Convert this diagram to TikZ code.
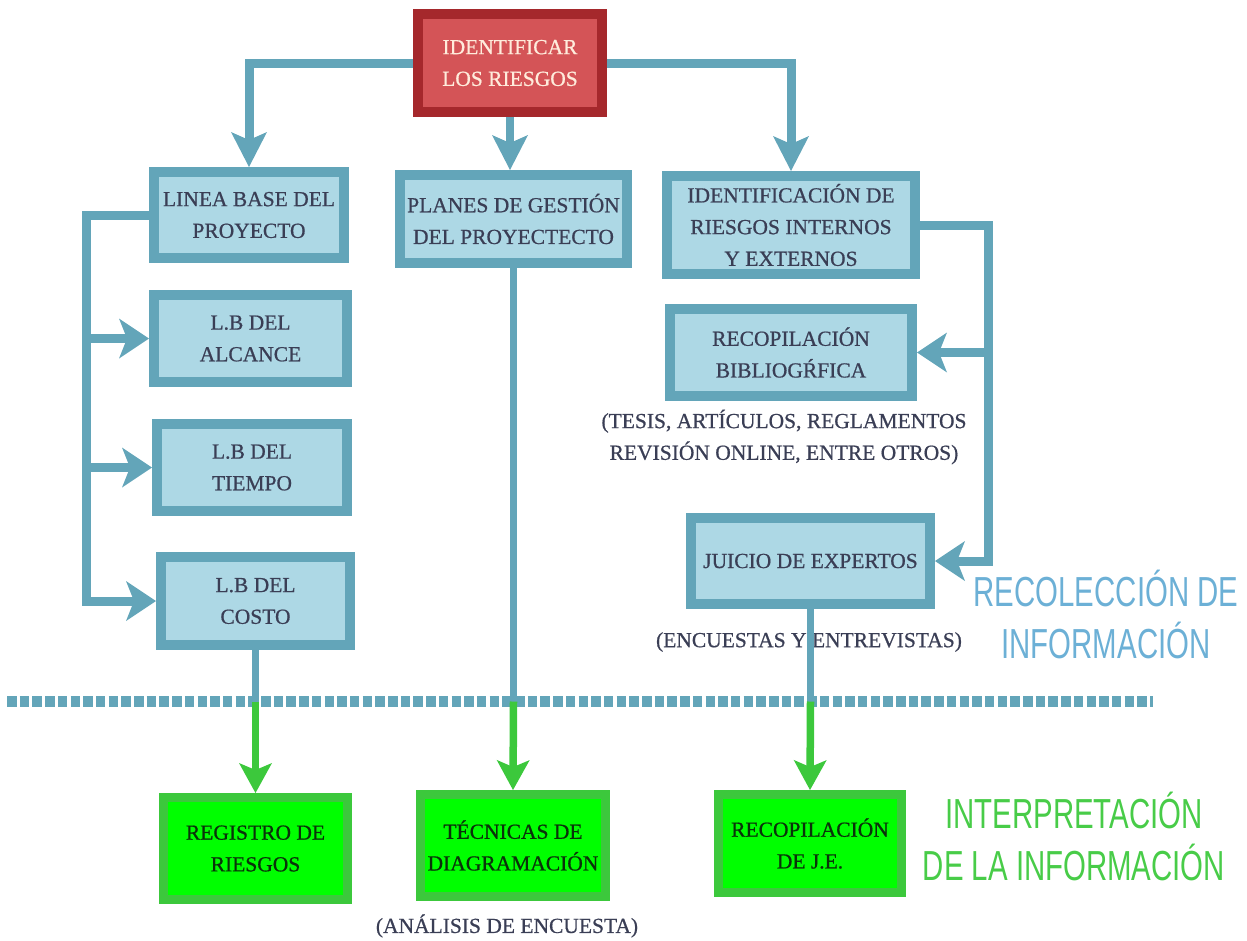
\documentclass[tikz,border=0pt]{standalone}
\usepackage{fontspec}
\setmainfont{Liberation Serif}
\newfontfamily\boxfont[FakeBold=0.7]{Liberation Serif}
\newfontfamily\narrowsans[FakeStretch=0.7]{Liberation Sans}
\usetikzlibrary{arrows.meta}
\definecolor{bcol}{HTML}{63A5B9}
\definecolor{bfill}{HTML}{ADD8E5}
\definecolor{rcol}{HTML}{A5282C}
\definecolor{rfill}{HTML}{D45457}
\definecolor{gcol}{HTML}{3CC83C}
\definecolor{gfill}{HTML}{00FF00}
\definecolor{tcol}{HTML}{3A3E55}
\definecolor{rtext}{HTML}{FFECDC}
\definecolor{gtext}{HTML}{0A320A}
\definecolor{lblue}{HTML}{6CB0D6}
\definecolor{lgreen}{HTML}{48CC48}
\begin{document}
\begin{tikzpicture}[x=1pt,y=-1pt,
  boxtext/.style={font=\boxfont\fontsize{21.5}{31.7}\selectfont, align=center, inner sep=0pt},
  bbox/.style={boxtext, draw=bcol, fill=bfill, line width=10pt, text=tcol},
  rbox/.style={boxtext, draw=rcol, fill=rfill, line width=10pt, text=rtext},
  gbox/.style={boxtext, draw=gcol, fill=gfill, line width=9pt, text=gtext},
  bline/.style={draw=bcol, line width=9pt},
  thinb/.style={draw=bcol, line width=7pt},
  gline/.style={draw=gcol, line width=7.5pt},
  bhead/.style={-{Stealth[length=35pt,width=36pt,inset=8pt,line width=0pt]}},
  sidehead/.style={-{Stealth[length=30pt,width=40pt,inset=8pt,line width=0pt]}},
  ghead/.style={-{Stealth[length=30pt,width=33pt,inset=7pt,line width=0pt]}},
  anntext/.style={font=\boxfont\fontsize{21.5}{31.7}\selectfont, align=center, inner sep=0pt, text=tcol},
  bigtext/.style={font=\narrowsans\fontsize{42}{52}\selectfont, align=center, inner sep=0pt}
]
\useasboundingbox (0,0) rectangle (1247,940);

% boxes
\node[rbox, minimum width=184pt, minimum height=98pt] (red) at (510,63) {IDENTIFICAR\\LOS RIESGOS};
\node[bbox, minimum width=190pt, minimum height=86pt] (lb) at (249,215) {LINEA BASE DEL\\PROYECTO};
\node[bbox, minimum width=227pt, minimum height=88pt] (pl) at (513.5,219) {PLANES DE GESTIÓN\\DEL PROYECTECTO};
\node[bbox, minimum width=248pt, minimum height=98pt] (id) at (791,225) {IDENTIFICACIÓN DE\\RIESGOS INTERNOS\\Y EXTERNOS};
\node[bbox, minimum width=193pt, minimum height=87pt] (alc) at (250.5,338.5) {L.B DEL\\ALCANCE};
\node[bbox, minimum width=242pt, minimum height=87pt] (rb) at (791,352.5) {RECOPILACIÓN\\BIBLIOG{\char"0154}FICA};
\node[bbox, minimum width=190pt, minimum height=87pt] (tie) at (252,467.5) {L.B DEL\\TIEMPO};
\node[bbox, minimum width=239pt, minimum height=86pt] (jui) at (810.5,561) {JUICIO DE EXPERTOS};
\node[bbox, minimum width=189pt, minimum height=88pt] (cos) at (255.5,601) {L.B DEL\\COSTO};
\node[gbox, minimum width=184pt, minimum height=102pt] (reg) at (255.5,848.5) {REGISTRO DE\\RIESGOS};
\node[gbox, minimum width=185pt, minimum height=102pt] (tec) at (513,845.5) {TÉCNICAS DE\\DIAGRAMACIÓN};
\node[gbox, minimum width=183pt, minimum height=98pt] (rje) at (810,843.5) {RECOPILACIÓN\\DE J.E.};

% annotations
\node[anntext] (ann1) at (784,437) {(TESIS, ARTÍCULOS, REGLAMENTOS\\REVISIÓN ONLINE, ENTRE OTROS)};
\node[anntext] (ann2) at (809,642) {(ENCUESTAS Y ENTREVISTAS)};
\node[anntext] (ann3) at (507,926) {(ANÁLISIS DE ENCUESTA)};
\node[bigtext, text=lblue] (rec) at (1106,614) {RECOLECCIÓN DE\\INFORMACIÓN};
\node[bigtext, text=lgreen] (int) at (1074,836) {INTERPRETACIÓN\\DE LA INFORMACIÓN};

% top connectors
\draw[bline, bhead] (red.west) -| (lb.north);
\draw[bline, bhead] (red.east) -| (id.north);
\draw[bline, line width=8pt, bhead] (red.south) -- (red.south |- pl.north);

% left bracket
\coordinate (lbus) at (86,215);
\draw[bline, sidehead] (lb.west) -- (lbus) -- (lbus |- cos.west) -- (cos.west);
\draw[bline, sidehead] (lbus |- alc.west) -- (alc.west);
\draw[bline, sidehead] (lbus |- tie.west) -- (tie.west);

% right bracket
\coordinate (rbus) at (988,225);
\draw[bline, sidehead] (id.east) -- (rbus) -- (rbus |- jui.east) -- (jui.east);
\draw[bline, sidehead] (rbus |- rb.east) -- (rb.east);

% dotted separator
\coordinate (dl1) at (7,701.5);
\coordinate (dl2) at (1153,701.5);
\draw[draw=bcol, line width=11pt, dash pattern=on 9.5pt off 3.2pt] (dl1) -- (dl2);

% bottom connectors
\draw[thinb] (cos.south) -- (cos.south |- dl1);
\draw[gline, ghead] (cos.south |- dl1) -- (reg.north);
\draw[thinb] (pl.south) -- (pl.south |- dl1);
\draw[gline, ghead] (pl.south |- dl1) -- (tec.north);
\draw[thinb] (jui.south) -- (jui.south |- dl1);
\draw[gline, ghead] (jui.south |- dl1) -- (rje.north);
\end{tikzpicture}
\end{document}
